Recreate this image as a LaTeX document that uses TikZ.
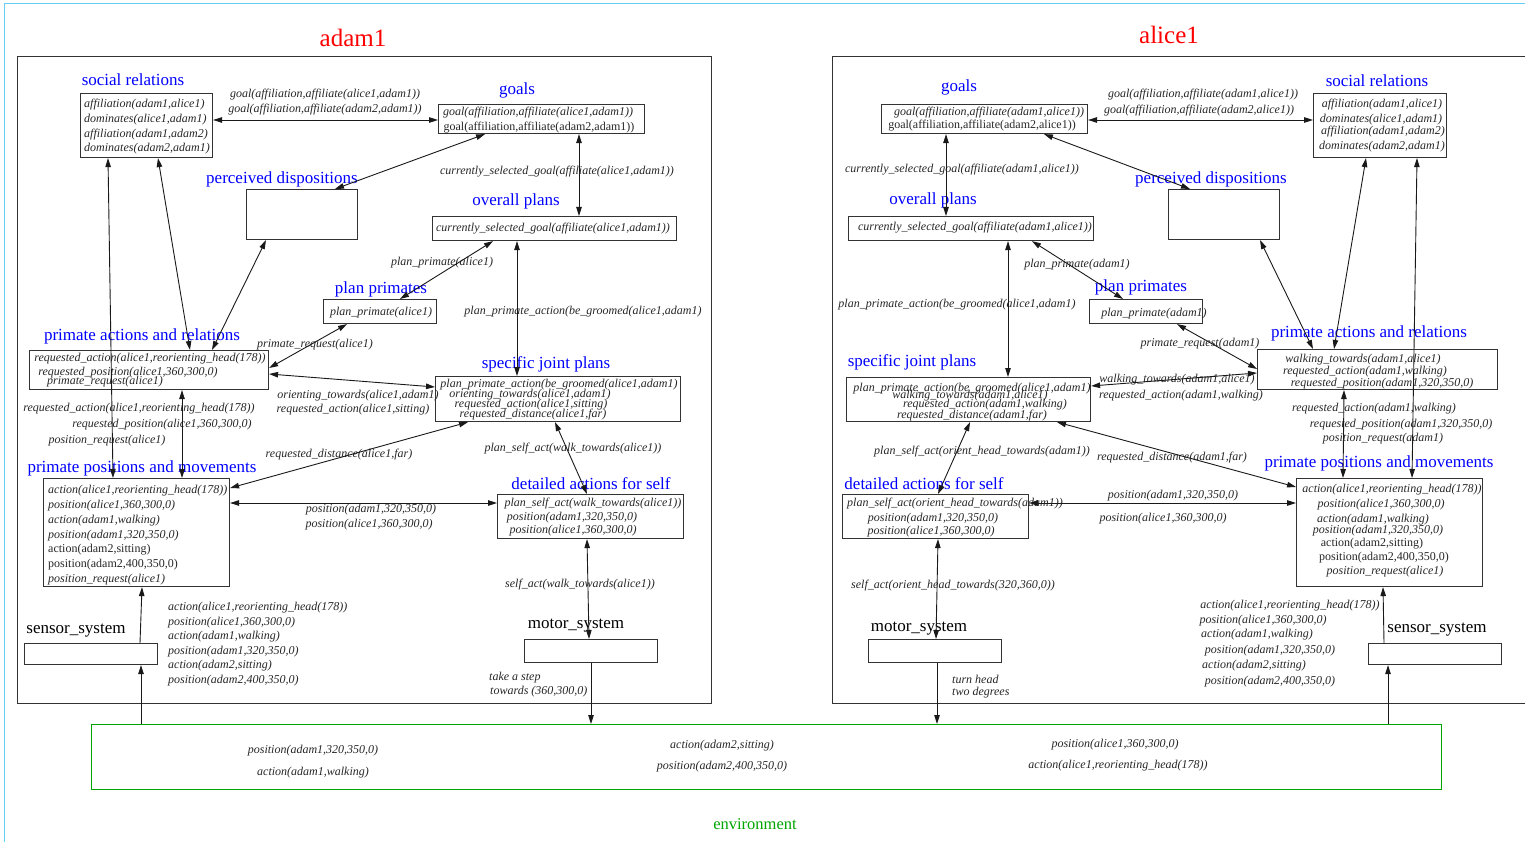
\documentclass[tikz,border=0pt]{standalone}
\usepackage{fontspec}
\setmainfont{Liberation Serif}
\usetikzlibrary{arrows.meta,calc}
\definecolor{envgreen}{RGB}{0,165,0}
\newcommand\mybox[5]{\node[bx,minimum width=#4pt,minimum height=#5pt] (#1) at (#2,#3) {};}
\newcommand\tx[5][it]{\node[#1] (#2) at (#3,#4) {#5};}
\newcommand\cn[5][dbl]{\draw[#1] ($(#2)+(#3)$) -- ($(#4)+(#5)$);}
\begin{document}
\begin{tikzpicture}[x=1pt,y=-1pt,
 bx/.style={draw=black!80,line width=1.1pt,inner sep=0pt,anchor=north west},
 it/.style={font=\fontsize{12}{14}\selectfont\itshape,inner sep=0pt,text=black!85,yshift=-2pt},
 rm/.style={font=\fontsize{12}{14}\selectfont,inner sep=0pt,text=black!85,yshift=-2pt},
 ttl/.style={font=\fontsize{17}{20}\selectfont,text=blue,inner sep=0pt,yshift=-1.5pt},
 sys/.style={font=\fontsize{17}{20}\selectfont,text=black,inner sep=0pt,yshift=-1.5pt},
 big/.style={font=\fontsize{25}{28}\selectfont,text=red,inner sep=0pt},
 dbl/.style={{Triangle[length=9pt,width=5.5pt]}-{Triangle[length=9pt,width=5.5pt]},line width=0.9pt,black!90},
 one/.style={-{Triangle[length=9pt,width=5.5pt]},line width=0.9pt,black!90}]
\useasboundingbox (0,0) rectangle (1525,842);
\node[draw=cyan!60,line width=1pt,minimum width=1540pt,minimum height=860pt,anchor=north west,inner sep=0pt] (frame) at (4,3) {};
% panels
\node[draw=black!80,line width=1pt,minimum width=694pt,minimum height=647pt,anchor=north west,inner sep=0pt] (Lpanel) at (17,56) {};
\node[draw=black!80,line width=1pt,minimum width=720pt,minimum height=647pt,anchor=north west,inner sep=0pt] (Rpanel) at (832,56) {};
\node[draw=envgreen,line width=1pt,minimum width=1350pt,minimum height=65pt,anchor=north west,inner sep=0pt] (env) at (91,724) {};
\tx[big]{tA}{353}{38}{adam1}
\tx[big]{tB}{1169}{35}{alice1}
\tx[font=\fontsize{16.5}{19}\selectfont,text=envgreen,inner sep=0pt,yshift=-1.5pt]{tEnv}{755}{823}{environment}
% ===== left boxes =====
\mybox{Lsr}{80}{93}{132}{64}
\mybox{Lgo}{438}{104}{206}{29}
\mybox{Lpd}{246}{189}{111}{50}
\mybox{Lop}{432}{216}{244}{24}
\mybox{Lpp}{323}{299}{113}{24}
\mybox{Lsj}{435}{376}{245}{45}
\mybox{Lpa}{29}{350}{239}{39}
\mybox{Lpm}{43}{478}{186}{108}
\mybox{Lda}{497}{494}{186}{44}
\mybox{Lms}{524}{639}{133}{23}
\mybox{Lss}{24}{643}{133}{21}
% ===== right boxes =====
\mybox{Rgo}{881}{104}{206}{29}
\mybox{Rsr}{1313}{93}{133}{64}
\mybox{Rpd}{1168}{189}{111}{50}
\mybox{Rop}{848}{216}{245}{24}
\mybox{Rpp}{1089}{299}{113}{24}
\mybox{Rsj}{846}{377}{244}{44}
\mybox{Rpa}{1257}{349}{240}{40}
\mybox{Rpm}{1296}{478}{186}{108}
\mybox{Rda}{842}{494}{186}{44}
\mybox{Rms}{868}{639}{133}{23}
\mybox{Rss}{1368}{643}{133}{21}
% ===== blue titles =====
\tx[ttl]{bL1}{133}{78}{social relations}
\tx[ttl]{bL2}{517}{89}{goals}
\tx[ttl]{bL3}{282}{178}{perceived dispositions}
\tx[ttl]{bL4}{516}{200}{overall plans}
\tx[ttl]{bL5}{381}{288}{plan primates}
\tx[ttl]{bL6}{546}{363}{specific joint plans}
\tx[ttl]{bL7}{142}{335}{primate actions and relations}
\tx[ttl]{bL8}{142}{467}{primate positions and movements}
\tx[ttl]{bL9}{591}{482}{detailed actions for self}
\tx[sys]{bL10}{76}{629}{sensor\_system}
\tx[sys]{bL11}{576}{624}{motor\_system}
\tx[ttl]{bR1}{959}{86}{goals}
\tx[ttl]{bR2}{1377}{79}{social relations}
\tx[ttl]{bR3}{933}{199}{overall plans}
\tx[ttl]{bR4}{1211}{178}{perceived dispositions}
\tx[ttl]{bR5}{1141}{286}{plan primates}
\tx[ttl]{bR6}{912}{361}{specific joint plans}
\tx[ttl]{bR7}{1369}{332}{primate actions and relations}
\tx[ttl]{bR8}{1379}{462}{primate positions and movements}
\tx[ttl]{bR9}{924}{482}{detailed actions for self}
\tx[sys]{bR10}{1437}{628}{sensor\_system}
\tx[sys]{bR11}{919}{627}{motor\_system}
% ===== left box contents =====
\tx[it,anchor=west]{cL1}{84}{103}{affiliation(adam1,alice1)}
\tx[it,anchor=west]{cL2}{84}{118}{dominates(alice1,adam1)}
\tx[it,anchor=west]{cL3}{84}{133}{affiliation(adam1,adam2)}
\tx[it,anchor=west]{cL4}{84}{147}{dominates(adam2,adam1)}
\tx{cL5}{538}{111}{goal(affiliation,affiliate(alice1,adam1))}
\tx[rm]{cL6}{539}{126}{goal(affiliation,affiliate(adam2,adam1))}
\tx{cL7}{553}{227}{currently\_selected\_goal(affiliate(alice1,adam1))}
\tx{cL8}{381}{311}{plan\_primate(alice1)}
\tx{cL9}{559}{383}{plan\_primate\_action(be\_groomed(alice1,adam1)}
\tx{cL10}{530}{393}{orienting\_towards(alice1,adam1)}
\tx{cL11}{531}{403}{requested\_action(alice1,sitting)}
\tx{cL12}{533}{413}{requested\_distance(alice1,far)}
\tx{cL13}{150}{357}{requested\_action(alice1,reorienting\_head(178))}
\tx{cL14}{128}{371}{requested\_position(alice1,360,300,0)}
\tx{cL15}{105}{380}{primate\_request(alice1)}
\tx[it,anchor=west]{cL16}{48}{489}{action(alice1,reorienting\_head(178))}
\tx[it,anchor=west]{cL17}{48}{504}{position(alice1,360,300,0)}
\tx[it,anchor=west]{cL18}{48}{519}{action(adam1,walking)}
\tx[it,anchor=west]{cL19}{48}{534}{position(adam1,320,350,0)}
\tx[rm,anchor=west]{cL20}{48}{548}{action(adam2,sitting)}
\tx[rm,anchor=west]{cL21}{48}{563}{position(adam2,400,350,0)}
\tx[it,anchor=west]{cL22}{48}{578}{position\_request(alice1)}
\tx{cL23}{593}{502}{plan\_self\_act(walk\_towards(alice1))}
\tx{cL24}{572}{516}{position(adam1,320,350,0)}
\tx{cL25}{573}{529}{position(alice1,360,300,0)}
% ===== right box contents =====
\tx{cR1}{989}{111}{goal(affiliation,affiliate(adam1,alice1))}
\tx[rm]{cR2}{982}{124}{goal(affiliation,affiliate(adam2,alice1))}
\tx{cR3}{1382}{103}{affiliation(adam1,alice1)}
\tx{cR4}{1381}{118}{dominates(alice1,adam1)}
\tx{cR5}{1383}{130}{affiliation(adam1,adam2)}
\tx{cR6}{1382}{145}{dominates(adam2,adam1)}
\tx{cR7}{975}{226}{currently\_selected\_goal(affiliate(adam1,alice1))}
\tx{cR8}{1154}{312}{plan\_primate(adam1)}
\tx{cR9}{972}{387}{plan\_primate\_action(be\_groomed(alice1,adam1)}
\tx{cR10}{970}{394}{walking\_towards(adam1,alice1)}
\tx{cR11}{985}{403}{requested\_action(adam1,walking)}
\tx{cR12}{972}{414}{requested\_distance(adam1,far)}
\tx{cR13}{1363}{358}{walking\_towards(adam1,alice1)}
\tx{cR14}{1365}{370}{requested\_action(adam1,walking)}
\tx{cR15}{1382}{382}{requested\_position(adam1,320,350,0)}
\tx{cR16}{1392}{488}{action(alice1,reorienting\_head(178))}
\tx{cR17}{1381}{503}{position(alice1,360,300,0)}
\tx{cR18}{1373}{518}{action(adam1,walking)}
\tx{cR19}{1378}{529}{position(adam1,320,350,0)}
\tx[rm]{cR20}{1372}{542}{action(adam2,sitting)}
\tx[rm]{cR21}{1384}{556}{position(adam2,400,350,0)}
\tx{cR22}{1385}{570}{position\_request(alice1)}
\tx{cR23}{955}{502}{plan\_self\_act(orient\_head\_towards(adam1))}
\tx{cR24}{933}{517}{position(adam1,320,350,0)}
\tx{cR25}{931}{530}{position(alice1,360,300,0)}
% ===== left edge labels =====
\tx{eL1}{325}{93}{goal(affiliation,affiliate(alice1,adam1))}
\tx{eL2}{325}{108}{goal(affiliation,affiliate(adam2,adam1))}
\tx{eL3}{557}{170}{currently\_selected\_goal(affiliate(alice1,adam1))}
\tx{eL4}{442}{261}{plan\_primate(alice1)}
\tx{eL5}{583}{310}{plan\_primate\_action(be\_groomed(alice1,adam1)}
\tx{eL6}{315}{343}{primate\_request(alice1)}
\tx{eL7}{358}{394}{orienting\_towards(alice1,adam1)}
\tx{eL8}{353}{408}{requested\_action(alice1,sitting)}
\tx{eL9}{139}{407}{requested\_action(alice1,reorienting\_head(178))}
\tx{eL10}{162}{423}{requested\_position(alice1,360,300,0)}
\tx{eL11}{107}{439}{position\_request(alice1)}
\tx{eL12}{339}{453}{requested\_distance(alice1,far)}
\tx{eL13}{573}{447}{plan\_self\_act(walk\_towards(alice1))}
\tx{eL14}{371}{508}{position(adam1,320,350,0)}
\tx{eL15}{369}{523}{position(alice1,360,300,0)}
\tx{eL16}{580}{583}{self\_act(walk\_towards(alice1))}
\tx[it,anchor=west]{eL17}{489}{676}{take a step}
\tx[it,anchor=west]{eL18}{490}{690}{towards (360,300,0)}
\tx[it,anchor=west]{eL19}{168}{606}{action(alice1,reorienting\_head(178))}
\tx[it,anchor=west]{eL20}{168}{621}{position(alice1,360,300,0)}
\tx[it,anchor=west]{eL21}{168}{635}{action(adam1,walking)}
\tx[it,anchor=west]{eL22}{168}{650}{position(adam1,320,350,0)}
\tx[it,anchor=west]{eL23}{168}{664}{action(adam2,sitting)}
\tx[it,anchor=west]{eL24}{168}{679}{position(adam2,400,350,0)}
% ===== right edge labels =====
\tx{eR1}{1203}{93}{goal(affiliation,affiliate(adam1,alice1))}
\tx{eR2}{1199}{109}{goal(affiliation,affiliate(adam2,alice1))}
\tx{eR3}{962}{168}{currently\_selected\_goal(affiliate(adam1,alice1))}
\tx{eR4}{1077}{263}{plan\_primate(adam1)}
\tx{eR5}{957}{303}{plan\_primate\_action(be\_groomed(alice1,adam1)}
\tx{eR6}{1200}{342}{primate\_request(adam1)}
\tx{eR7}{1177}{378}{walking\_towards(adam1,alice1)}
\tx{eR8}{1181}{394}{requested\_action(adam1,walking)}
\tx{eR9}{1374}{407}{requested\_action(adam1,walking)}
\tx{eR10}{1401}{423}{requested\_position(adam1,320,350,0)}
\tx{eR11}{1383}{437}{position\_request(adam1)}
\tx{eR12}{1172}{456}{requested\_distance(adam1,far)}
\tx{eR13}{982}{450}{plan\_self\_act(orient\_head\_towards(adam1))}
\tx{eR14}{1173}{494}{position(adam1,320,350,0)}
\tx{eR15}{1163}{517}{position(alice1,360,300,0)}
\tx{eR16}{953}{584}{self\_act(orient\_head\_towards(320,360,0))}
\tx[it,anchor=west]{eR17}{952}{677}{turn head}
\tx[it,anchor=west]{eR18}{952}{691}{two degrees}
\tx{eR19}{1290}{604}{action(alice1,reorienting\_head(178))}
\tx{eR20}{1263}{619}{position(alice1,360,300,0)}
\tx{eR21}{1257}{633}{action(adam1,walking)}
\tx{eR22}{1270}{649}{position(adam1,320,350,0)}
\tx{eR23}{1254}{664}{action(adam2,sitting)}
\tx{eR24}{1270}{680}{position(adam2,400,350,0)}
% ===== environment contents =====
\tx{en1}{313}{749}{position(adam1,320,350,0)}
\tx{en2}{313}{771}{action(adam1,walking)}
\tx{en3}{722}{744}{action(adam2,sitting)}
\tx{en4}{722}{765}{position(adam2,400,350,0)}
\tx{en5}{1115}{743}{position(alice1,360,300,0)}
\tx{en6}{1118}{764}{action(alice1,reorienting\_head(178))}
% ===== left connectors =====
\cn{Lsr.north east}{0,27}{Lgo.north west}{0,16}
\cn{Lgo.south west}{47,0}{Lpd.north west}{89,0}
\cn{Lgo.south west}{141,0}{Lop.north west}{147,0}
\cn{Lop.south west}{61,0}{Lpp.north west}{77,0}
\cn{Lop.south west}{85,0}{Lsj.north west}{82,0}
\cn{Lpp.south west}{24,0}{Lpa.north east}{0,18}
\cn{Lpa.north east}{0,24}{Lsj.north west}{0,11}
\cn{Lsr.south west}{78,0}{Lpa.north west}{161,0}
\cn{Lpd.south west}{20,0}{Lpa.north west}{183,0}
\cn{Lsr.south west}{28,0}{Lpm.north west}{70,0}
\cn{Lpa.south west}{153,0}{Lpm.north west}{139,0}
\cn{Lsj.south west}{33,0}{Lpm.north east}{0,10}
\cn{Lpm.north east}{0,25}{Lda.north west}{0,9}
\cn{Lsj.south west}{120,0}{Lda.north west}{90,0}
\cn{Lda.south west}{90,0}{Lms.north west}{65,0}
\cn[one]{Lms.south west}{67,0}{env.north west}{500,0}
\cn[one]{env.north west}{50,0}{Lss.south west}{117,0}
\cn[one]{Lss.north west}{116,0}{Lpm.south west}{99,0}
% ===== right connectors =====
\cn{Rgo.north east}{0,16}{Rsr.north west}{0,27}
\cn{Rgo.south west}{163,0}{Rpd.north west}{22,0}
\cn{Rgo.south west}{65,0}{Rop.north west}{98,0}
\cn{Rop.south west}{184,0}{Rpp.north west}{34,0}
\cn{Rop.south west}{160,0}{Rsj.north west}{162,0}
\cn{Rpp.south west}{88,0}{Rpa.north west}{0,20}
\cn{Rsj.north east}{0,9}{Rpa.north west}{0,24}
\cn{Rpd.south west}{92,0}{Rpa.north west}{56,0}
\cn{Rsr.south west}{53,0}{Rpa.north west}{77,0}
\cn{Rsr.south west}{104,0}{Rpm.north west}{116,0}
\cn{Rpa.south west}{87,0}{Rpm.north west}{47,0}
\cn{Rsj.south west}{211,0}{Rpm.north west}{0,9}
\cn{Rda.north east}{0,9}{Rpm.north west}{0,25}
\cn{Rsj.south west}{124,0}{Rda.north west}{96,0}
\cn{Rda.south west}{96,0}{Rms.north west}{68,0}
\cn[one]{Rms.south west}{69,0}{env.north west}{846,0}
\cn[one]{env.north west}{1297,0}{Rss.south west}{20,0}
\cn[one]{Rss.north west}{16,0}{Rpm.south west}{87,0}
\end{tikzpicture}
\end{document}
